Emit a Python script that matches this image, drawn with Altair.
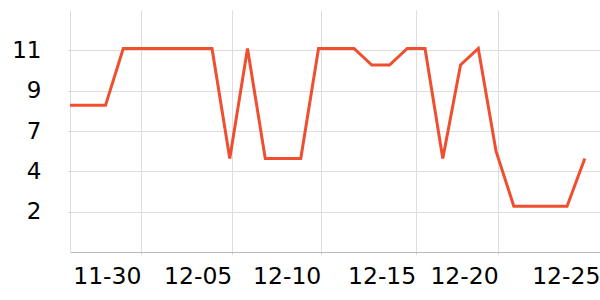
import altair as alt
import pandas as pd

dates = pd.date_range("2023-11-26", "2023-12-25", freq="D").strftime("%Y-%m-%dT00:00:00Z").tolist()
values = [8, 8, 8, 11.1, 11.1, 11.1, 11.1, 11.1, 11.1, 5.1,
          11.1, 5.1, 5.1, 5.1, 11.1, 11.1, 11.1, 10.2, 10.2, 11.1,
          11.1, 5.1, 10.2, 11.1, 5.5, 2.5, 2.5, 2.5, 2.5, 5.1]

# x tick times (month, date, hour, minute) and labels
tick_times = [(11, 30, 0, 0), (12, 5, 2, 45), (12, 10, 3, 5),
              (12, 15, 11, 30), (12, 20, 2, 55), (12, 25, 20, 30)]
y_ticks = [2.2, 4.4, 6.6, 8.8, 11]
y_max = 13.2

df = pd.DataFrame({"date": dates, "value": values})

def dt(m, d, h=0, mi=0):
    return alt.DateTime(year=2023, month=m, date=d, hours=h, minutes=mi, utc=True)

x_values = [dt(*t) for t in tick_times]

chart = alt.Chart(df).mark_line(color="#EF4E2F", strokeWidth=3).encode(
    x=alt.X("date:T",
            scale=alt.Scale(type="utc", domain=[dt(11, 26), dt(12, 25, 20, 33)], nice=False),
            axis=alt.Axis(title=None, values=x_values, format="%m-%d",
                          labelAlign="right", labelFlush=False, labelOverlap=False,
                          labelFontSize=23.5, labelFont="DejaVu Sans", labelColor="#000",
                          labelPadding=10, tickSize=2, tickColor="#ccc",
                          domainColor="#bbb", gridColor="#ddd")),
    y=alt.Y("value:Q",
            scale=alt.Scale(domain=[0, y_max], nice=False, zero=True),
            axis=alt.Axis(title=None, values=y_ticks, format=".0f",
                          labelFontSize=23, labelFont="DejaVu Sans", labelColor="#000",
                          labelPadding=27, tickSize=2, tickColor="#ccc",
                          domainColor="#ddd", gridColor="#ddd")),
).properties(
    width=530, height=242,
    autosize=alt.AutoSizeParams(type="none"),
    padding={"left": 70, "top": 10, "right": 0, "bottom": 48},
).configure_view(stroke=None)

chart.save("out.html", embed_options={"renderer": "svg", "actions": False})
